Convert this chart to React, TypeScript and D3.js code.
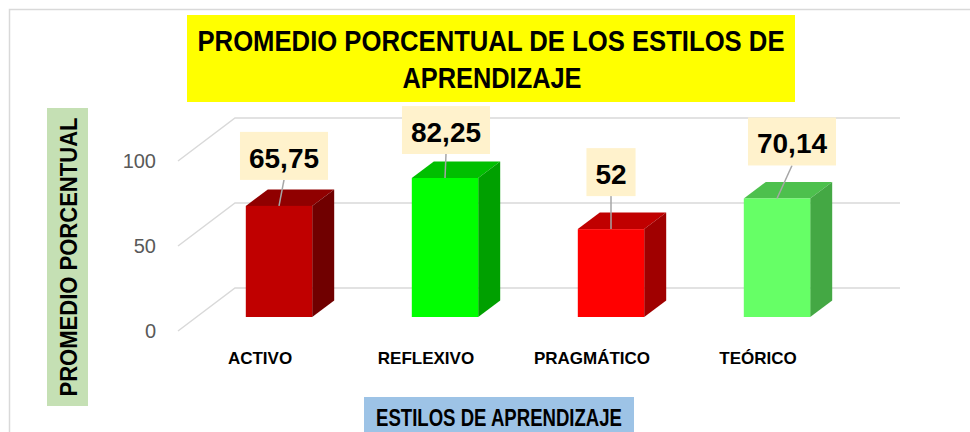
import React from "react";
import * as d3 from "d3";

const categories = ["ACTIVO", "REFLEXIVO", "PRAGMÁTICO", "TEÓRICO"];
const values = [65.75, 82.25, 52, 70.14];
const valueLabels = ["65,75", "82,25", "52", "70,14"];
const yTicks = [0, 50, 100];

const frontColors = ["#C00000", "#00FF00", "#FF0000", "#66FF66"];
const topColors = ["#900000", "#00BF00", "#C00000", "#4DC04D"];
const sideColors = ["#700000", "#00A000", "#A00000", "#44A844"];

// layout tweaks for label boxes (manually placed in the original)
const labelShiftX = [5, 1, 0, 15];
const labelGap = [26, 24, 33, 33];

const W = 970;
const H = 432;
const DX = 22;
const DY = -16.5;
const WALL_DX = 57;
const WALL_DY = 43;

function textWidth(s: string, size: number) {
  let w = 0;
  for (const c of s) w += c === "," ? 0.278 : 0.556;
  return w * size;
}

export default function App() {
  const x = d3
    .scaleBand<string>()
    .domain(categories)
    .range([196, 860])
    .paddingInner(0.6)
    .paddingOuter(0.3);
  const yFront = d3.scaleLinear().domain([0, 100]).range([317, 148]);
  const yBack = d3.scaleLinear().domain([0, 100]).range([288, 118]);
  const bw = x.bandwidth();
  const wallLeft = 235;
  const wallRight = 900;

  return (
    <svg
      width={W}
      height={H}
      style={{ position: "absolute", left: 0, top: 0, background: "#fff" }}
      fontFamily="'Liberation Sans', Arial, sans-serif"
    >
      <rect x={0} y={0} width={W} height={H} fill="#fff" />
      <rect x={9.5} y={9.5} width={W + 20} height={H + 20} fill="none" stroke="#D9D9D9" strokeWidth={1.5} />

      {/* Title */}
      <rect x={187} y={15} width={608} height={87} fill="#FFFF00" />
      <text x={491} y={51} textAnchor="middle" fontSize={29} fontWeight="bold" fill="#000" textLength={587} lengthAdjust="spacingAndGlyphs">
        PROMEDIO PORCENTUAL DE LOS ESTILOS DE
      </text>
      <text x={492} y={88} textAnchor="middle" fontSize={29} fontWeight="bold" fill="#000" textLength={179} lengthAdjust="spacingAndGlyphs">
        APRENDIZAJE
      </text>

      {/* Y axis title */}
      <rect x={47} y={108} width={41} height={298} fill="#C5E0B4" />
      <text
        transform={`translate(77,257) rotate(-90)`}
        textAnchor="middle"
        fontSize={24}
        fontWeight="bold"
        fill="#000"
        textLength={279}
        lengthAdjust="spacingAndGlyphs"
      >
        PROMEDIO PORCENTUAL
      </text>

      {/* Gridlines */}
      {yTicks.map((t) => (
        <g key={t}>
          <polyline
            points={`${wallLeft - WALL_DX},${yBack(t) + WALL_DY} ${wallLeft},${yBack(t)} ${wallRight},${yBack(t)}`}
            fill="none"
            stroke="#D9D9D9"
            strokeWidth={1.5}
          />
          <text x={156} y={yBack(t) + WALL_DY + 7} textAnchor="end" fontSize={20} fill="#595959">
            {t}
          </text>
        </g>
      ))}

      {/* Bars */}
      {categories.map((c, i) => {
        const x0 = x(c) as number;
        const yt = yFront(values[i]);
        const yb = yFront(0);
        return (
          <g key={c}>
            <polygon
              points={`${x0},${yt} ${x0 + DX},${yt + DY} ${x0 + bw + DX},${yt + DY} ${x0 + bw},${yt}`}
              fill={topColors[i]}
            />
            <polygon
              points={`${x0 + bw},${yt} ${x0 + bw + DX},${yt + DY} ${x0 + bw + DX},${yb + DY} ${x0 + bw},${yb}`}
              fill={sideColors[i]}
            />
            <rect x={x0} y={yt} width={bw} height={yb - yt} fill={frontColors[i]} />
          </g>
        );
      })}

      {/* Data labels */}
      {categories.map((c, i) => {
        const cx = (x(c) as number) + bw / 2;
        const yt = yFront(values[i]);
        const bx = cx + labelShiftX[i];
        const boxBottom = yt - labelGap[i];
        const boxH = 48;
        const tw = textWidth(valueLabels[i], 28);
        const boxW = tw + 18;
        return (
          <g key={"l" + c}>
            <line x1={cx} y1={yt} x2={bx} y2={boxBottom} stroke="#A6A6A6" strokeWidth={1.5} />
            <rect x={bx - boxW / 2} y={boxBottom - boxH} width={boxW} height={boxH} fill="#FFF2CC" />
            <text x={bx} y={boxBottom - boxH + 36} textAnchor="middle" fontSize={28} fontWeight="bold" fill="#000">
              {valueLabels[i]}
            </text>
          </g>
        );
      })}

      {/* Category labels */}
      {categories.map((c) => (
        <text key={"c" + c} x={(x(c) as number) + bw / 2 - 19} y={364} textAnchor="middle" fontSize={17} fontWeight="bold" fill="#000">
          {c}
        </text>
      ))}

      {/* X axis title */}
      <rect x={364} y={397} width={270} height={40} fill="#9DC3E6" />
      <text x={499} y={426} textAnchor="middle" fontSize={23} fontWeight="bold" fill="#000" textLength={246} lengthAdjust="spacingAndGlyphs">
        ESTILOS DE APRENDIZAJE
      </text>
    </svg>
  );
}
